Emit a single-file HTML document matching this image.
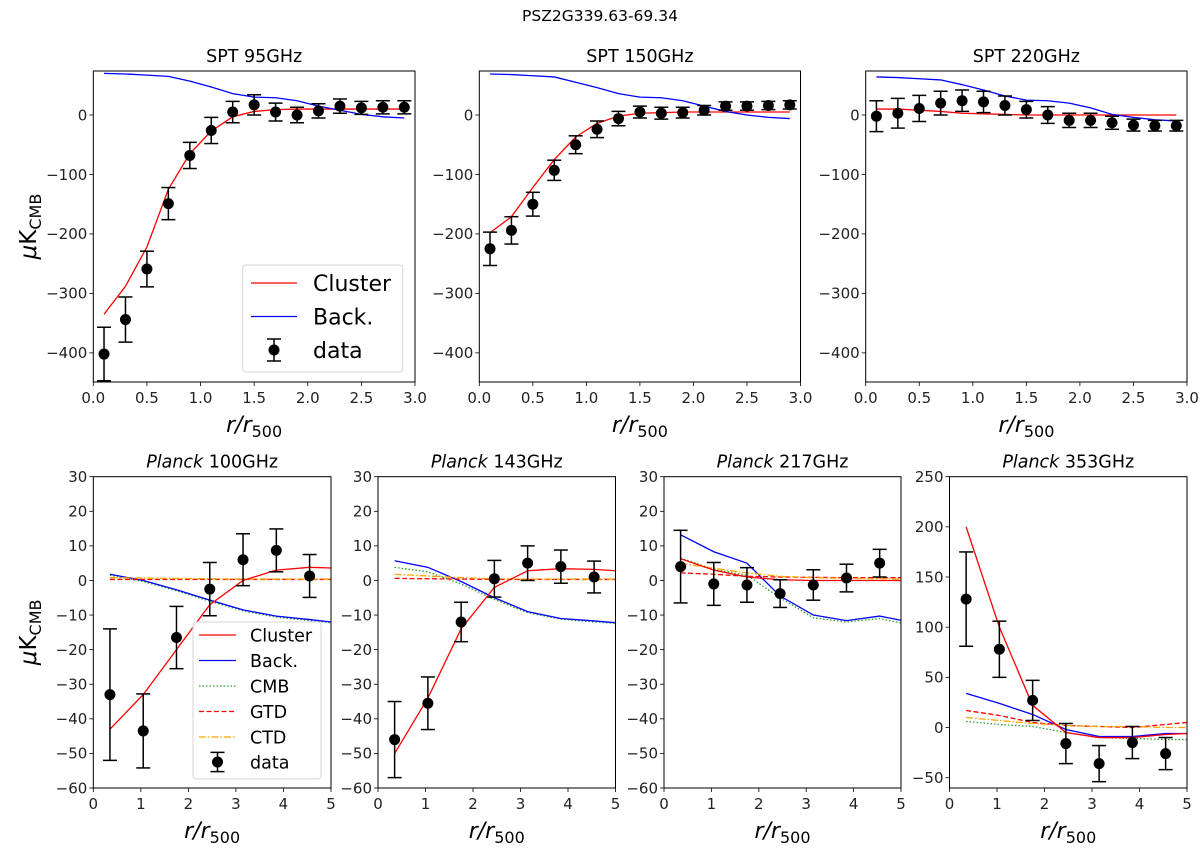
<!DOCTYPE html>
<html><head><meta charset="utf-8"><style>
html,body{margin:0;padding:0;background:#fff;}
svg{display:block;font-family:"DejaVu Sans","Liberation Sans",sans-serif;}
</style></head><body>
<svg id="fig" width="1200" height="849" viewBox="0 0 1200 849">
<text x="600" y="21" font-size="15.5" text-anchor="middle">PSZ2G339.63-69.34</text>
</svg>
<script>
// ---- Data ----
const sptX = [0.1,0.3,0.5,0.7,0.9,1.1,1.3,1.5,1.7,1.9,2.1,2.3,2.5,2.7,2.9];
const spt95Data = [-402,-344,-259,-149,-68,-26,5,17,5,0,7,15,12,13,13];
const spt95Err = [45,38,30,27,22,22,18,17,15,13,12,12,11,11,11];
const spt95Cluster = [-335,-288,-222,-125,-65,-27,-3,6,9,10,10,10,10,10,10];
const spt95Back = [70,69,67,65,57,47,36,30,29,24,15,8,1,-3,-5];
const spt150Data = [-225,-194,-150,-93,-50,-24,-6,5,3,4,8,15,15,16,17];
const spt150Err = [28,23,20,17,15,14,12,10,10,9,8,7,7,7,7];
const spt150Cluster = [-198,-171,-122,-75,-37,-14,-2,3,4,5,5,5,5,5,5];
const spt150Back = [69,68,66,64,55,46,36,30,29,24,15,6,0,-4,-6];
const spt220Data = [-2,3,11,20,24,22,16,9,0,-9,-9,-13,-17,-18,-18];
const spt220Err = [26,25,22,20,18,18,16,14,14,12,12,11,10,9,9];
const spt220Cluster = [10,10,8,6,3,2,1,0,0,0,0,0,0,0,0];
const spt220Back = [64,63,61,59,51,42,32,25,24,20,12,1,-4,-8,-10];

const plX = [0.35,1.05,1.75,2.45,3.15,3.85,4.55];
const plLineX = [0.35,1.05,1.75,2.45,3.15,3.85,4.55,5.0];
const p100Data = [-33,-43.5,-16.5,-2.5,6,8.7,1.3];
const p100Err = [19,10.7,9,7.7,7.5,6.2,6.2];
const p100Cluster = [-43,-33,-20,-7,0,3,3.8,3.6];
const p100Back = [1.8,0,-2.7,-5.7,-8.5,-10.3,-11.3,-12];
const p100CMB = [1.5,-0.3,-3,-6,-8.8,-10.6,-11.6,-12.2];
const p100GTD = [0.3,0.3,0.3,0.3,0.3,0.3,0.3,0.3];
const p100CTD = [0.8,0.7,0.6,0.5,0.4,0.4,0.4,0.4];
const p143Data = [-46,-35.5,-12,0.5,5,4,1];
const p143Err = [11,7.6,5.7,5.3,5,4.8,4.6];
const p143Cluster = [-50,-34,-14,-2,2.8,3.4,3.2,2.8];
const p143Back = [5.7,3.8,-0.3,-5,-9,-11,-11.7,-12.2];
const p143CMB = [3.8,2.5,-1,-5.5,-9.3,-11.2,-12,-12.4];
const p143GTD = [0.6,0.5,0.4,0.3,0.3,0.3,0.3,0.3];
const p143CTD = [1.8,1.3,0.8,0.5,0.4,0.4,0.4,0.4];
const p217Data = [4,-1,-1.3,-3.8,-1.3,0.7,5];
const p217Err = [10.5,6.2,5,4,4.4,4,4];
const p217Cluster = [6.3,3,1,0.2,0,0,0,0];
const p217Back = [13.2,8.3,5,-4.5,-10,-11.6,-10.3,-11.5];
const p217CMB = [6.5,3.2,1.5,-5,-10.8,-12,-11,-12.3];
const p217GTD = [2.2,1.8,1.2,1,0.9,0.8,0.8,0.8];
const p217CTD = [5,3.5,2.2,1.2,0.8,0.6,0.5,0.4];
const p353Data = [128,78,27,-16,-36,-15,-26];
const p353Err = [47,28,20,20,18,16,16];
const p353Cluster = [200,100,22,-5,-10,-10,-7,-6];
const p353Back = [34,24,13,-2,-9,-9,-6,-6];
const p353CMB = [6,3,1,-5,-10,-11,-12,-12];
const p353GTD = [17,12,5,2,1,0,3,5];
const p353CTD = [10,7,4,2,1,1,0,0];

const sptXTicks = [0,0.5,1,1.5,2,2.5,3];
const sptXTickLabels = ["0.0","0.5","1.0","1.5","2.0","2.5","3.0"];
const sptYTicks = [0,-100,-200,-300,-400];
const plXTicks = [0,1,2,3,4,5];
const plYTicks = [30,20,10,0,-10,-20,-30,-40,-50,-60];
const p353YTicks = [250,200,150,100,50,0,-50];

const NS = "http://www.w3.org/2000/svg";
const fig = document.getElementById('fig');
function mk(tag, attrs, parent){
  const e = document.createElementNS(NS, tag);
  for (const k in attrs) e.setAttribute(k, attrs[k]);
  (parent||fig).appendChild(e);
  return e;
}
let clipId = 0;
function panel(cfg){
  const g = mk('g', {});
  
  
  const sx = v => cfg.x0 + (v - cfg.xmin)/(cfg.xmax-cfg.xmin)*(cfg.x1-cfg.x0);
  const sy = v => cfg.y1 - (v - cfg.ymin)/(cfg.ymax-cfg.ymin)*(cfg.y1-cfg.y0);
  const cid = 'c' + (clipId++);
  const cp = mk('clipPath', {id: cid}, g);
  mk('rect', {x: cfg.x0, y: cfg.y0, width: cfg.x1-cfg.x0, height: cfg.y1-cfg.y0}, cp);
  const t = mk('text', {x: (cfg.x0+cfg.x1)/2, y: cfg.y0-9, 'font-size': 17.5, 'text-anchor': 'middle'}, g);
  
  
  if (cfg.italic) {
    const a = mk('tspan', {'font-style': 'italic'}, t); a.textContent = 'Planck';
    const b = mk('tspan', {}, t); b.textContent = ' ' + cfg.title;
  } else t.textContent = cfg.title;
  cfg.xticks.forEach((v, i) => {
    const x = sx(v);
    mk('line', {x1: x, x2: x, y1: cfg.y1, y2: cfg.y1+4, stroke: '#000', 'stroke-width': 0.8}, g);
    const tl = mk('text', {x: x, y: cfg.y1+21, 'font-size': 15, 'text-anchor': 'middle', fill: '#222'}, g);
    
    
    tl.textContent = cfg.xlabels ? cfg.xlabels[i] : String(v);
  });
  cfg.yticks.forEach(v => {
    const y = sy(v);
    mk('line', {x1: cfg.x0-4, x2: cfg.x0, y1: y, y2: y, stroke: '#000', 'stroke-width': 0.8}, g);
    const tl = mk('text', {x: cfg.x0-6, y: y+5.3, 'font-size': 15, 'text-anchor': 'end', fill: '#222'}, g);
    
    
    tl.textContent = v < 0 ? '\u2212' + Math.abs(v) : String(v);
  });
  const xt = mk('text', {x: (cfg.x0+cfg.x1)/2, y: cfg.y1+50, 'font-size': 22, 'text-anchor': 'middle'}, g);
  
  
  const r1 = mk('tspan', {'font-style': 'italic'}, xt); r1.textContent = 'r/r';
  const r2 = mk('tspan', {'font-size': 16, dy: 5}, xt); r2.textContent = '500';
  if (cfg.ytitle) {
    const cy = (cfg.y0+cfg.y1)/2;
    const yt = mk('text', {x: 0, y: 0, 'font-size': 23, 'text-anchor': 'middle', transform: `translate(${cfg.ytx},${cy}) rotate(-90)`}, g);
    
    
    const m1 = mk('tspan', {'font-style': 'italic'}, yt); m1.textContent = '\u03bc';
    const m2 = mk('tspan', {}, yt); m2.textContent = 'K';
    const m3 = mk('tspan', {'font-size': 16, dy: 5}, yt); m3.textContent = 'CMB';
  }
  const pg = mk('g', {'clip-path': `url(#${cid})`}, g);
  cfg.lines.forEach(L => {
    const pts = L.ys.map((v, i) => sx(L.xs[i]).toFixed(2) + ',' + sy(v).toFixed(2)).join(' ');
    const p = mk('polyline', {points: pts, fill: 'none', stroke: L.color, 'stroke-width': 1.3, 'stroke-dasharray': L.dash || 'none'}, pg);
    
    
  });
  cfg.data.forEach((v, i) => {
    const x = sx(cfg.dx[i]), y = sy(v), e = cfg.err[i];
    const ya = sy(v+e), yb = sy(v-e);
    const eg = mk('g', {}, pg);
    
    
    mk('line', {x1: x, x2: x, y1: ya, y2: yb, stroke: '#000', 'stroke-width': 1.5}, eg);
    mk('line', {x1: x-7, x2: x+7, y1: ya, y2: ya, stroke: '#000', 'stroke-width': 1.5}, eg);
    mk('line', {x1: x-7, x2: x+7, y1: yb, y2: yb, stroke: '#000', 'stroke-width': 1.5}, eg);
    mk('circle', {cx: x, cy: y, r: 5.5, fill: '#000'}, eg);
  });
  mk('rect', {x: cfg.x0, y: cfg.y0, width: cfg.x1-cfg.x0, height: cfg.y1-cfg.y0, fill: 'none', stroke: '#000', 'stroke-width': 1}, g);
}

const topY0 = 71, topY1 = 382;
const topCfg = [
  {name:'panel-spt-95', title:'SPT 95GHz', x0:93.3, x1:415, d:spt95Data, e:spt95Err, c:spt95Cluster, b:spt95Back, yt:true},
  {name:'panel-spt-150', title:'SPT 150GHz', x0:479.3, x1:800.5, d:spt150Data, e:spt150Err, c:spt150Cluster, b:spt150Back},
  {name:'panel-spt-220', title:'SPT 220GHz', x0:865.7, x1:1187, d:spt220Data, e:spt220Err, c:spt220Cluster, b:spt220Back}
];
topCfg.forEach(p => panel({
  name: p.name, title: p.title, x0: p.x0, x1: p.x1, y0: topY0, y1: topY1,
  xmin: 0, xmax: 3, ymin: -449, ymax: 74,
  xticks: sptXTicks, xlabels: sptXTickLabels, yticks: sptYTicks,
  ytitle: p.yt, ytx: 36,
  lines: [
    {name:'cluster-line', xs: sptX, ys: p.c, color:'#ff0000'},
    {name:'back-line', xs: sptX, ys: p.b, color:'#0000ff'}
  ],
  dx: sptX, data: p.d, err: p.e
}));

const botY0 = 476.7, botY1 = 788;
const botCfg = [
  {name:'panel-planck-100', title:'100GHz', x0:93.3, x1:331, d:p100Data, e:p100Err, c:p100Cluster, b:p100Back, cm:p100CMB, g:p100GTD, t:p100CTD, yt:true},
  {name:'panel-planck-143', title:'143GHz', x0:378, x1:615.5, d:p143Data, e:p143Err, c:p143Cluster, b:p143Back, cm:p143CMB, g:p143GTD, t:p143CTD},
  {name:'panel-planck-217', title:'217GHz', x0:664, x1:901, d:p217Data, e:p217Err, c:p217Cluster, b:p217Back, cm:p217CMB, g:p217GTD, t:p217CTD},
  {name:'panel-planck-353', title:'353GHz', x0:949.5, x1:1187, d:p353Data, e:p353Err, c:p353Cluster, b:p353Back, cm:p353CMB, g:p353GTD, t:p353CTD, big:true}
];
botCfg.forEach(p => panel({
  name: p.name, title: p.title, italic: true, x0: p.x0, x1: p.x1, y0: botY0, y1: botY1,
  xmin: 0, xmax: 5, ymin: p.big ? -60.3 : -60, ymax: p.big ? 250 : 30,
  xticks: plXTicks, yticks: p.big ? p353YTicks : plYTicks,
  ytitle: p.yt, ytx: 36,
  lines: [
    {name:'cmb-line', xs: plLineX, ys: p.cm, color:'#2ca02c', dash:'1.5,2'},
    {name:'back-line', xs: plLineX, ys: p.b, color:'#0000ff'},
    {name:'gtd-line', xs: plLineX, ys: p.g, color:'#ff0000', dash:'5,2.5'},
    {name:'ctd-line', xs: plLineX, ys: p.t, color:'#ffa500', dash:'7,2,1.5,2'},
    {name:'cluster-line', xs: plLineX, ys: p.c, color:'#ff0000'}
  ],
  dx: plX, data: p.d, err: p.e
}));

function legend(name, bx, by, bw, bh, items, lx0, lx1, tx, fs){
  const g = mk('g', {});
  
  
  mk('rect', {x: bx, y: by, width: bw, height: bh, rx: 3, fill: 'rgba(255,255,255,0.85)', stroke: '#d6d6d6', 'stroke-width': 1}, g);
  items.forEach(it => {
    const eg = mk('g', {}, g);
    
    
    if (it.data) {
      const cx = (lx0+lx1)/2, h = Math.min(fs*0.55, 11);
      mk('line', {x1: cx, x2: cx, y1: it.y-h, y2: it.y+h, stroke:'#000', 'stroke-width':1.5}, eg);
      mk('line', {x1: cx-7, x2: cx+7, y1: it.y-h, y2: it.y-h, stroke:'#000', 'stroke-width':1.5}, eg);
      mk('line', {x1: cx-7, x2: cx+7, y1: it.y+h, y2: it.y+h, stroke:'#000', 'stroke-width':1.5}, eg);
      mk('circle', {cx: cx, cy: it.y, r: 5.5, fill:'#000'}, eg);
    } else {
      mk('line', {x1: lx0, x2: lx1, y1: it.y, y2: it.y, stroke: it.color, 'stroke-width': 1.3, 'stroke-dasharray': it.dash || 'none'}, eg);
    }
    const t = mk('text', {x: tx, y: it.y + fs*0.36, 'font-size': fs}, eg);
    t.textContent = it.label;
  });
}
legend('legend-spt', 242.7, 265, 160, 107, [
  {label:'Cluster', color:'#ff0000', y:283},
  {label:'Back.', color:'#0000ff', y:316.5},
  {label:'data', data:true, y:350}
], 251, 297, 313, 22);
legend('legend-planck', 193, 622, 128, 157, [
  {label:'Cluster', color:'#ff0000', y:635},
  {label:'Back.', color:'#0000ff', y:660.5},
  {label:'CMB', color:'#2ca02c', dash:'1.5,2', y:686},
  {label:'GTD', color:'#ff0000', dash:'5,2.5', y:711.5},
  {label:'CTD', color:'#ffa500', dash:'7,2,1.5,2', y:737},
  {label:'data', data:true, y:762}
], 199, 236, 250, 17.5);
</script>
</body></html>
